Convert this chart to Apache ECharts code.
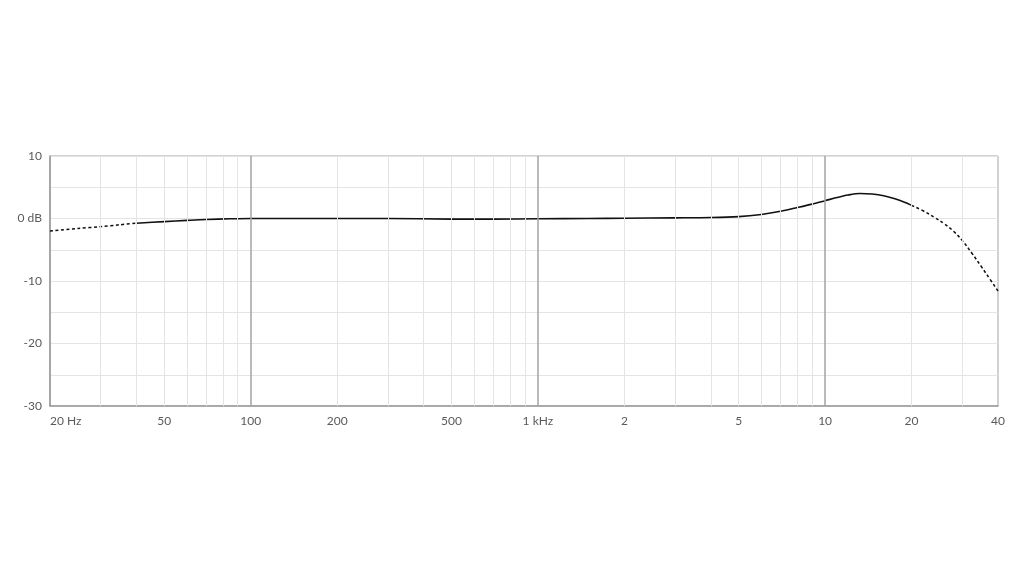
<!DOCTYPE html>
<html><head><meta charset="utf-8">
<script src="https://cdn.jsdelivr.net/npm/echarts@6/dist/echarts.min.js"></script>
<style>html,body{margin:0;padding:0;background:#fff}#c{width:1024px;height:578px}</style>
</head><body><div id="c"></div>
<script>
// frequency (Hz) and level (dB)
const freqLow = [20, 25, 30, 35, 40];
const dbLow   = [-2.0, -1.6, -1.3, -1.0, -0.75];
const freqMid = [40, 50, 60, 70, 85, 100, 150, 200, 300, 500, 700, 1000, 1500, 2000, 3000, 4000, 5000, 6000, 7000, 8000, 9000, 10000, 11000, 12000, 13200, 14600, 16000, 17500, 19000, 20000];
const dbMid   = [-0.75, -0.5, -0.3, -0.15, -0.05, 0, 0, 0, 0, -0.1, -0.1, -0.05, 0, 0.05, 0.1, 0.15, 0.3, 0.65, 1.15, 1.75, 2.3, 2.85, 3.35, 3.75, 4.0, 3.92, 3.65, 3.15, 2.55, 2.1];
const freqHigh = [20000, 22000, 24000, 26000, 28000, 30000, 32500, 35000, 37500, 40000];
const dbHigh   = [2.1, 1.2, 0.2, -0.85, -2.05, -3.5, -5.6, -7.7, -9.7, -11.6];

const xTicks = [20, 50, 100, 200, 500, 1000, 2000, 5000, 10000, 20000, 40000];
const xTickLabels = ['20 Hz', '50', '100', '200', '500', '1 kHz', '2', '5', '10', '20', '40'];
const minorGrid = [30, 40, 50, 60, 70, 80, 90, 200, 300, 400, 500, 600, 700, 800, 900,
  2000, 3000, 4000, 5000, 6000, 7000, 8000, 9000, 20000, 30000];
const majorGrid = [100, 1000, 10000];

const zip = (a, b) => a.map((v, i) => [v, b[i]]);
const chart = echarts.init(document.getElementById('c'));
const font = 'Lato';
chart.setOption({
  animation: false,
  grid: { left: 50, right: 26, top: 156, bottom: 172, show: true, borderColor: '#a3a3a3', borderWidth: 1 },
  xAxis: {
    type: 'log', logBase: 10, min: 20, max: 40000,
    axisLine: { show: true, onZero: false, lineStyle: { color: '#999', width: 1.5 } },
    axisTick: { show: false },
    splitLine: { show: false },
    minorTick: { show: false },
    axisLabel: {
      customValues: xTicks,
      formatter: v => { const i = xTicks.findIndex(t => Math.abs(t - v) / t < 1e-6); return i >= 0 ? xTickLabels[i] : ''; },
      color: '#5a5a5a', fontFamily: font, fontSize: 12, margin: 9,
      alignMinLabel: 'left', showMinLabel: true, showMaxLabel: true
    }
  },
  yAxis: {
    type: 'value', min: -30, max: 10, interval: 5,
    axisLine: { show: true, onZero: false, lineStyle: { color: '#999', width: 1.5 } },
    axisTick: { show: false },
    splitLine: { show: true, lineStyle: { color: '#e4e4e4', width: 1 } },
    axisLabel: {
      formatter: v => v % 10 !== 0 ? '' : (v === 0 ? '0 dB' : String(v)),
      color: '#5a5a5a', fontFamily: font, fontSize: 12, margin: 8
    }
  },
  series: [
    {
      type: 'line', data: [], z: 1, silent: true,
      markLine: {
        silent: true, symbol: 'none', animation: false,
        label: { show: false },
        data: minorGrid.map(f => ({ xAxis: f, lineStyle: { color: '#e4e4e4', width: 1, type: 'solid' } }))
          .concat(majorGrid.map(f => ({ xAxis: f, lineStyle: { color: '#a3a3a3', width: 1.5, type: 'solid' } })))
      }
    },
    { type: 'line', data: zip(freqLow, dbLow), smooth: 0.3, showSymbol: false, z: 3,
      lineStyle: { color: '#111', width: 1.5, type: [3, 2.5] } },
    { type: 'line', data: zip(freqMid, dbMid), smooth: 0.3, showSymbol: false, z: 3,
      lineStyle: { color: '#111', width: 1.6 } },
    { type: 'line', data: zip(freqHigh, dbHigh), smooth: 0.5, showSymbol: false, z: 3,
      lineStyle: { color: '#111', width: 1.5, type: [3, 2.5] } }
  ]
});
</script></body></html>
